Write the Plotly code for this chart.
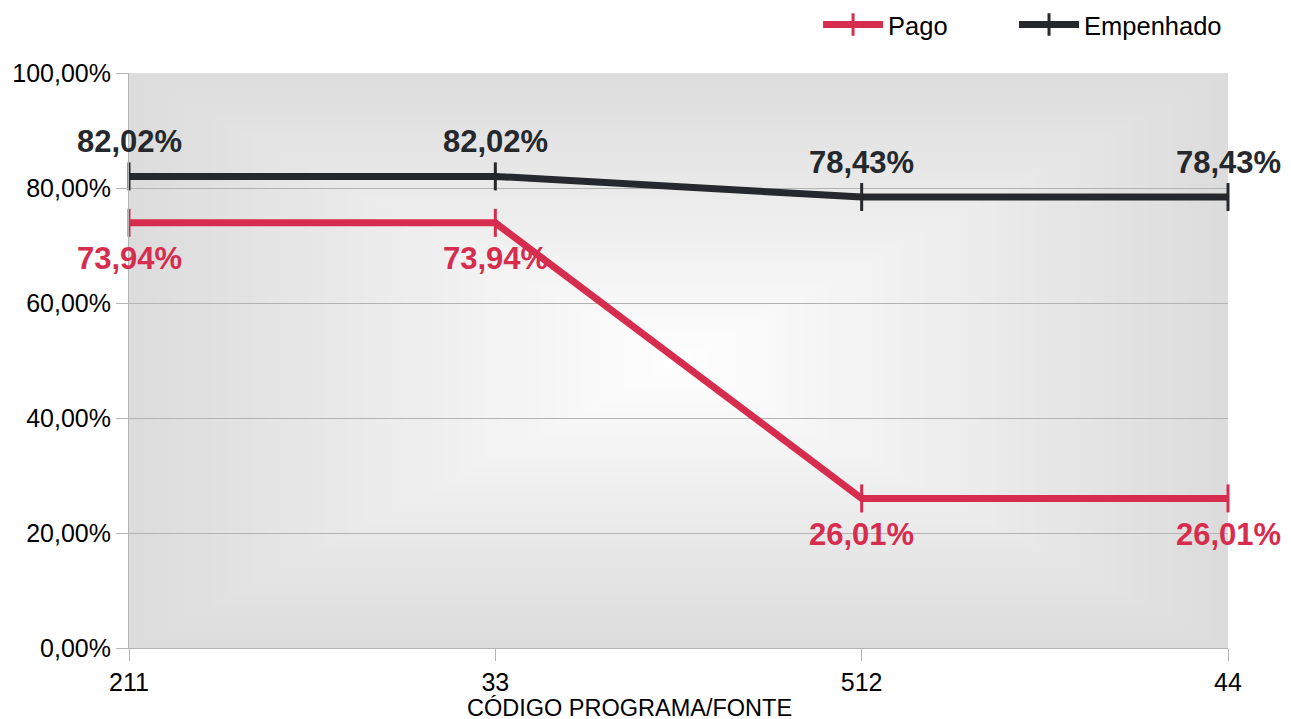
import plotly.graph_objects as go
import base64

categories = ["211", "33", "512", "44"]
pago = [0.7394, 0.7394, 0.2601, 0.2601]
empenhado = [0.8202, 0.8202, 0.7843, 0.7843]
pago_labels = ["73,94%", "73,94%", "26,01%", "26,01%"]
emp_labels = ["82,02%", "82,02%", "78,43%", "78,43%"]

PAGO_C = "#d62d4f"
EMP_C = "#25282c"
FONT = "Liberation Sans, Arial, sans-serif"

# rectangular gradient background (white centre -> grey edges)
N = 40
rects = []
for i in range(N):
    t = i / N
    f = 1 - t
    v = int(round(255 - (255 - 220) * f))
    c = f"#{v:02x}{v:02x}{v:02x}"
    off = 500 * t
    rects.append(f'<rect x="{off:.2f}" y="{off:.2f}" width="{1000-2*off:.2f}" height="{1000-2*off:.2f}" fill="{c}"/>')
svg = ('<svg xmlns="http://www.w3.org/2000/svg" width="1000" height="1000" viewBox="0 0 1000 1000" preserveAspectRatio="none">'
       + "".join(rects) + "</svg>")
src = "data:image/svg+xml;base64," + base64.b64encode(svg.encode()).decode()

fig = go.Figure()
for name, vals, col, lg in [("Pago", pago, PAGO_C, "legend"), ("Empenhado", empenhado, EMP_C, "legend2")]:
    fig.add_trace(go.Scatter(
        x=categories, y=vals, name=name, mode="lines+markers",
        line=dict(color=col, width=7),
        marker=dict(symbol="line-ns", size=20, line=dict(color=col, width=3), color=col),
        cliponaxis=False, legend=lg,
    ))

annotations = []
for i, (v, t) in enumerate(zip(pago, pago_labels)):
    annotations.append(dict(x=i, y=v, xref="x", yref="y", text=t, showarrow=False, yshift=-36,
                            font=dict(family=FONT, size=31, color=PAGO_C, weight="bold")))
for i, (v, t) in enumerate(zip(empenhado, emp_labels)):
    annotations.append(dict(x=i, y=v, xref="x", yref="y", text=t, showarrow=False, yshift=35,
                            font=dict(family=FONT, size=31, color=EMP_C, weight="bold")))
annotations.append(dict(x=0.455, y=0, xref="paper", yref="paper", yshift=-60,
                        text="CÓDIGO PROGRAMA/FONTE", showarrow=False,
                        xanchor="center", yanchor="middle",
                        font=dict(family=FONT, size=23.5, color="#000000")))

legend_common = dict(orientation="h", xref="paper", yref="paper", yanchor="middle",
                     font=dict(size=25.5, family=FONT), itemwidth=60,
                     bgcolor="rgba(0,0,0,0)")

fig.update_layout(
    width=1283, height=711,
    margin=dict(l=121, r=63, t=65, b=71, autoexpand=False),
    paper_bgcolor="white", plot_bgcolor="#dcdcdc",
    separators=",.",
    font=dict(family=FONT, size=25, color="#000000"),
    images=[dict(source=src, xref="paper", yref="paper", x=0, y=1, sizex=1, sizey=1,
                 xanchor="left", yanchor="top", sizing="stretch", layer="below")],
    annotations=annotations,
    legend=dict(x=0.627, xanchor="left", y=1.0835, **legend_common),
    legend2=dict(x=0.8053, xanchor="left", y=1.0835, **legend_common),
    showlegend=True,
)
fig.update_xaxes(
    type="category", range=[0, 3], showgrid=False,
    showline=True, linecolor="#b3b3b3", linewidth=1,
    ticks="outside", ticklen=12, tickcolor="#b3b3b3",
    tickfont=dict(size=25, family=FONT),
    zeroline=False,
)
fig.update_yaxes(
    range=[0, 1], dtick=0.2, tickformat=".2%",
    showgrid=True, gridcolor="#b3b3b3", gridwidth=1,
    showline=True, linecolor="#b3b3b3", linewidth=1,
    ticks="outside", ticklen=12, tickcolor="#b3b3b3",
    tickfont=dict(size=25, family=FONT), zeroline=False,
)

fig.write_html("out.html")
